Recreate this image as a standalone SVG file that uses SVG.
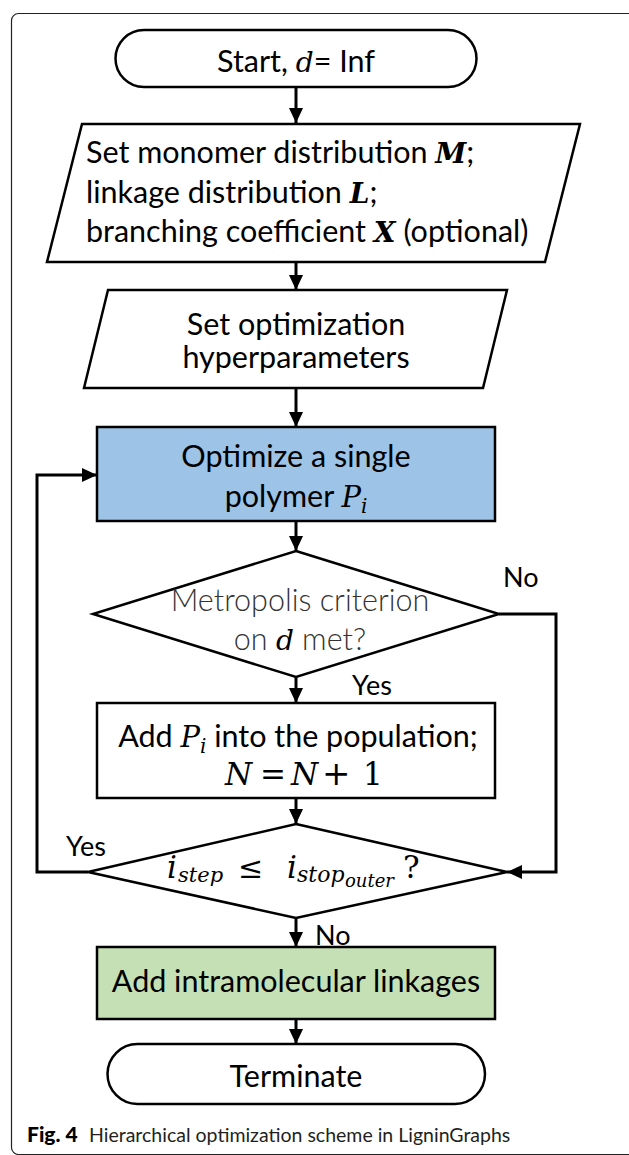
<svg xmlns="http://www.w3.org/2000/svg" width="629" height="1155" viewBox="0 0 629 1155">
<defs>
<style>
.shape{stroke:#000;stroke-width:2.5;fill:#fff}
.conn{stroke:#000;stroke-width:3;fill:none}
.t{font-family:Lato,"Open Sans","Liberation Sans",sans-serif;font-size:30.5px;fill:#000}
.lt{font-family:Lato,"Open Sans","Liberation Sans",sans-serif;font-size:30.5px;font-weight:300;fill:#333}
.m{font-family:"DejaVu Serif","Liberation Serif",serif;font-style:italic}
.mb{font-family:"DejaVu Serif","Liberation Serif",serif;font-style:italic;font-weight:bold}
.mu{font-family:"DejaVu Serif","Liberation Serif",serif;font-style:normal}
.lbl{font-family:Lato,"Open Sans","Liberation Sans",sans-serif;font-size:27px;fill:#000}
.cap{font-family:Lato,"Open Sans","Liberation Sans",sans-serif;font-size:19.5px;fill:#231f20}
</style>
<marker id="ah" markerUnits="userSpaceOnUse" markerWidth="16" markerHeight="16" viewBox="0 0 16 16" refX="15" refY="8" orient="auto">
<path d="M0,1 L15,8 L0,15 Z" fill="#000"/>
</marker>
</defs>
<rect x="11.5" y="13.5" width="640" height="1141" rx="7" fill="none" stroke="#222" stroke-width="1.2"/>

<g id="connectors">
<line class="conn" x1="296" y1="88" x2="296" y2="123" marker-end="url(#ah)"/>
<line class="conn" x1="296" y1="262" x2="296" y2="290" marker-end="url(#ah)"/>
<line class="conn" x1="296" y1="389" x2="296" y2="427" marker-end="url(#ah)"/>
<line class="conn" x1="296" y1="521" x2="296" y2="551" marker-end="url(#ah)"/>
<line class="conn" x1="296" y1="677" x2="296" y2="703" marker-end="url(#ah)"/>
<line class="conn" x1="296" y1="798" x2="296" y2="824" marker-end="url(#ah)"/>
<line class="conn" x1="296" y1="918" x2="296" y2="947" marker-end="url(#ah)"/>
<line class="conn" x1="296" y1="1019" x2="296" y2="1044" marker-end="url(#ah)"/>
<polyline class="conn" points="499,614 556,614 556,872 507,872" marker-end="url(#ah)"/>
<polyline class="conn" points="88,872 37,872 37,475 97,475" marker-end="url(#ah)"/>
<text class="lbl" x="503" y="587">No</text>
<text class="lbl" x="352" y="695">Yes</text>
<text class="lbl" x="66" y="856">Yes</text>
<text class="lbl" x="315" y="945">No</text>
</g>

<g id="start">
<rect class="shape" x="115.5" y="30" width="361" height="57" rx="28.5"/>
<text class="t" x="296" y="72" text-anchor="middle">Start, <tspan class="m" font-size="28">d</tspan>= Inf</text>
</g>

<g id="set-distributions">
<polygon class="shape" points="82,124 580,124 545,262 47,262"/>
<text class="t" x="86" y="163">Set monomer distribution <tspan class="mb" font-size="28">M</tspan>;</text>
<text class="t" x="86" y="203">linkage distribution <tspan class="mb" font-size="28">L</tspan>;</text>
<text class="t" x="86" y="242">branching coefficient <tspan class="mb" font-size="28">X</tspan> (optional)</text>
</g>

<g id="set-hyperparameters">
<polygon class="shape" points="108,290 507,290 483,388 84,388"/>
<text class="t" x="296" y="335" text-anchor="middle">Set optimization</text>
<text class="t" x="296" y="368" text-anchor="middle">hyperparameters</text>
</g>

<g id="optimize">
<rect class="shape" x="97" y="427" width="398" height="94" style="fill:#9dc3e6"/>
<text class="t" x="296" y="467" text-anchor="middle">Optimize a single</text>
<text class="t" x="296" y="507" text-anchor="middle">polymer <tspan class="m" font-size="29">P</tspan><tspan class="m" font-size="20" dy="6">i</tspan></text>
</g>

<g id="metropolis">
<polygon class="shape" points="296,551 499,614 296,677 93,614"/>
<text class="lt" x="300" y="611" text-anchor="middle">Metropolis criterion</text>
<text class="lt" x="300" y="650" text-anchor="middle">on <tspan class="m" fill="#000" font-size="28">d</tspan> met?</text>
</g>

<g id="add-population">
<rect class="shape" x="97" y="703" width="398" height="95"/>
<text class="t" x="298" y="747" text-anchor="middle">Add <tspan class="m" font-size="29">P</tspan><tspan class="m" font-size="20" dy="6">i</tspan><tspan dy="-6"> into the population;</tspan></text>
<text y="785" style="font-size:31px;fill:#000"><tspan class="m" x="225">N</tspan><tspan class="mu" x="260">=</tspan><tspan class="m" x="291">N</tspan><tspan class="mu" x="322" font-size="34">+</tspan><tspan class="mu" x="363">1</tspan></text>
</g>

<g id="step-check">
<polygon class="shape" points="296,824 507,872 296,918 88,872"/>
<text y="878" style="fill:#000"><tspan class="m" x="167" font-size="31">i</tspan><tspan class="m" x="178" font-size="21" dy="4">step</tspan><tspan class="mu" x="238" font-size="30" dy="-4">≤</tspan><tspan class="m" x="287" font-size="31">i</tspan><tspan class="m" x="297" font-size="22" dy="4">stop</tspan><tspan class="m" x="345" font-size="18" dy="5">outer</tspan><tspan class="mu" x="403" font-size="31" dy="-9">?</tspan></text>
</g>

<g id="intramolecular">
<rect class="shape" x="97" y="947" width="398" height="72" style="fill:#c5e0b4"/>
<text class="t" x="296" y="992" text-anchor="middle">Add intramolecular linkages</text>
</g>

<g id="terminate">
<rect class="shape" x="107.5" y="1044" width="377.5" height="60" rx="30"/>
<text class="t" x="296" y="1087" text-anchor="middle">Terminate</text>
</g>

<text class="cap" y="1142"><tspan x="27" font-weight="900" font-size="21" fill="#000">Fig. 4</tspan><tspan x="89">Hierarchical optimization scheme in LigninGraphs</tspan></text>
</svg>
